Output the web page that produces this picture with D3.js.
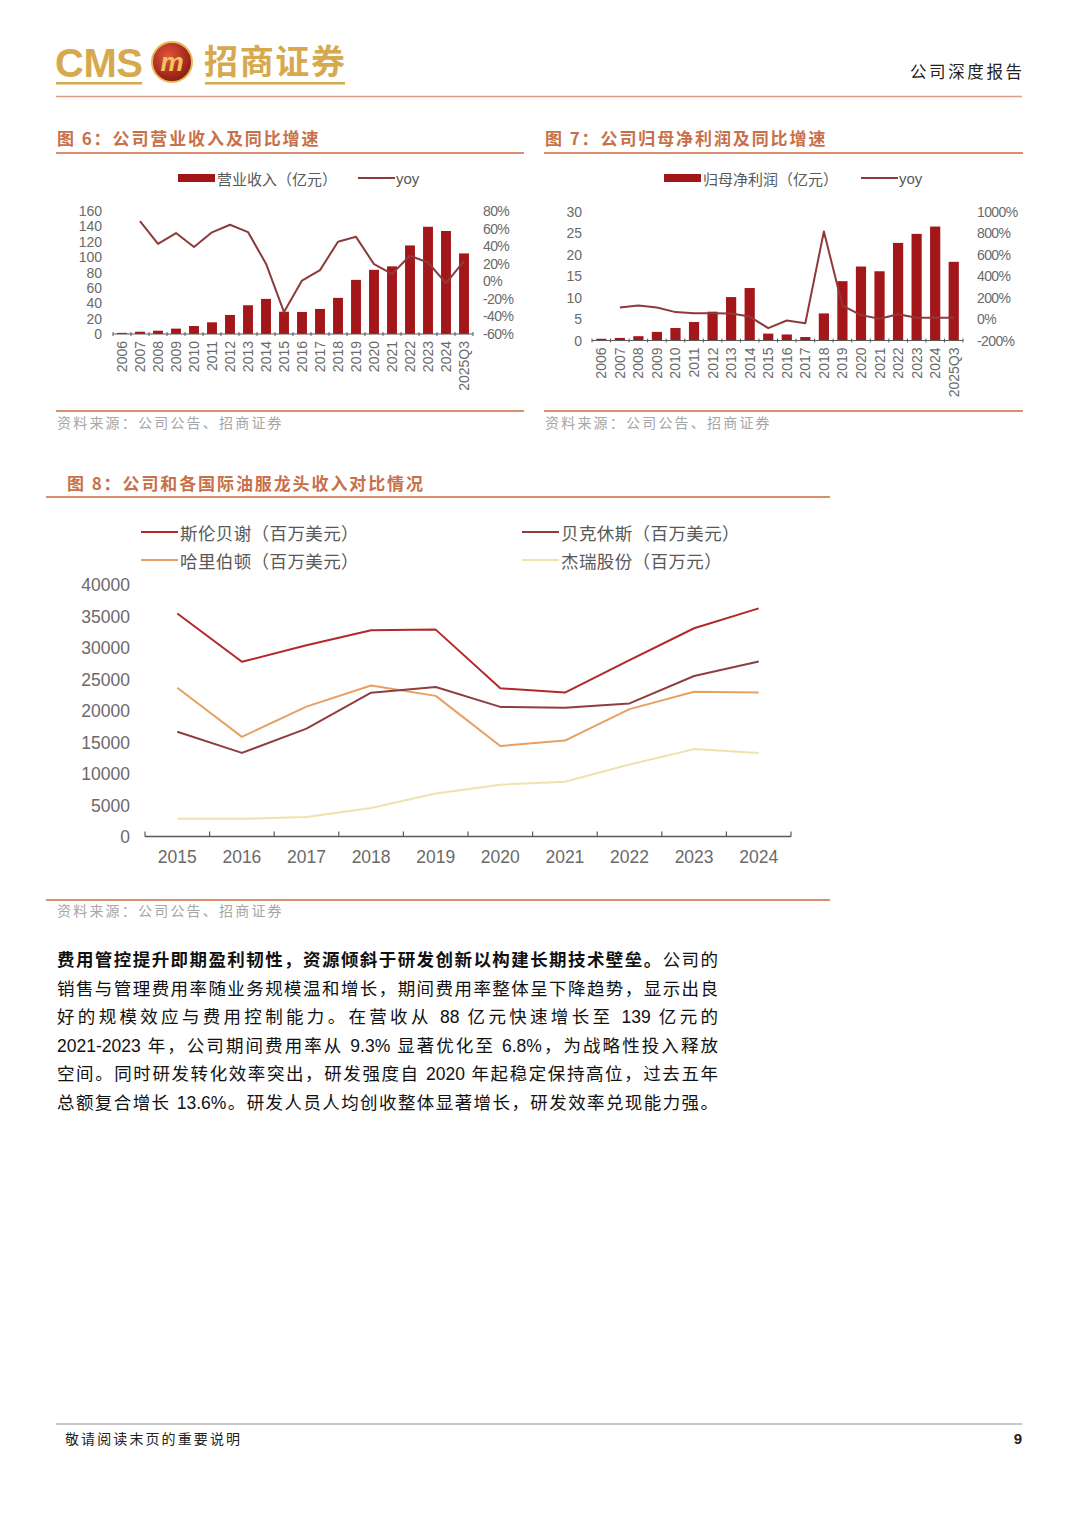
<!DOCTYPE html>
<html>
<head>
<meta charset="utf-8">
<script src="https://cdn.jsdelivr.net/npm/d3@7"></script>
<style>
  body { margin: 0; background: #fff; }
  #page { position: relative; width: 1080px; height: 1527px; overflow: hidden; }
  #page svg { position: absolute; left: 0; top: 0; }
  .para {
    position: absolute; left: 57px; top: 946px; width: 661px;
    font-family: "Liberation Sans", "Noto Sans CJK SC", sans-serif;
    font-size: 17.5px; line-height: 28.6px; color: #111;
  }
  .para div { text-align: justify; text-align-last: justify; text-justify: inter-character; }
  .para b { font-weight: 700; }
</style>
</head>
<body>
<div id="page"></div>
<script>
// ---- data ----
const years = ['2006', '2007', '2008', '2009', '2010', '2011', '2012', '2013', '2014', '2015',
  '2016', '2017', '2018', '2019', '2020', '2021', '2022', '2023', '2024', '2025Q3'];

// fig 6: revenue (100m yuan) and yoy (%)
const revenue = [1.5, 3, 4.3, 7, 10.4, 15.2, 24.8, 37.4, 45.7, 29, 28.7, 32.6, 47, 70.4, 83.5, 88, 115.2, 139.5, 134, 104.8];
const revenueYoy = [null, 68.6, 42.7, 54.9, 39, 55.7, 64.4, 56, 20, -35, 0.8, 12.7, 45, 50.6, 19.5, 8.5, 29, 21.4, -2, 23];

// fig 7: net profit attributable (100m yuan) and yoy (%)
const profit = [0.4, 0.6, 1.0, 2.0, 2.9, 4.3, 6.7, 10.1, 12.2, 1.6, 1.4, 0.8, 6.3, 13.8, 17.2, 16.1, 22.7, 24.8, 26.5, 18.3];
const profitYoy = [null, 107, 125, 107, 64, 54, 54, 51, 23, -85, -14, -39, 814, 125, 36, 2, 45, 11, 11, 11];

// fig 8: revenue of oilfield service leaders
const years8 = ['2015', '2016', '2017', '2018', '2019', '2020', '2021', '2022', '2023', '2024'];
const slb = [35475, 27810, 30440, 32815, 32917, 23601, 22929, 28091, 33135, 36289];
const bakerHughes = [16700, 13350, 17200, 22900, 23800, 20650, 20500, 21200, 25550, 27850];
const halliburton = [23700, 15900, 20700, 24050, 22400, 14450, 15300, 20300, 23050, 22950];
const jereh = [2900, 2880, 3170, 4600, 6920, 8300, 8780, 11500, 13950, 13350];
const names8 = ['斯伦贝谢（百万美元）', '哈里伯顿（百万美元）', '贝克休斯（百万美元）', '杰瑞股份（百万元）'];

const ticks6Left = [0, 20, 40, 60, 80, 100, 120, 140, 160];
const ticks6Right = [-60, -40, -20, 0, 20, 40, 60, 80];
const ticks7Left = [0, 5, 10, 15, 20, 25, 30];
const ticks7Right = [-200, 0, 200, 400, 600, 800, 1000];
const ticks8 = [0, 5000, 10000, 15000, 20000, 25000, 30000, 35000, 40000];

const paraLines = [
  ['<b>费用管控提升即期盈利韧性，资源倾斜于研发创新以构建长期技术壁垒。</b>公司的'],
  ['销售与管理费用率随业务规模温和增长，期间费用率整体呈下降趋势，显示出良'],
  ['好的规模效应与费用控制能力。在营收从 88 亿元快速增长至 139 亿元的'],
  ['2021-2023 年，公司期间费用率从 9.3% 显著优化至 6.8%，为战略性投入释放'],
  ['空间。同时研发转化效率突出，研发强度自 2020 年起稳定保持高位，过去五年'],
  ['总额复合增长 13.6%。研发人员人均创收整体显著增长，研发效率兑现能力强。']
];

const SANS = '"Liberation Sans", Arial, "Noto Sans CJK SC", sans-serif';
const CJK = '"Noto Sans CJK SC", sans-serif';
const BAR = '#A3161A';
const YOY = '#8E3A3A';
const TICK = '#6A6A6A';
const RULE = '#DA8F6E';

const page = d3.select('#page');
const svg = page.append('svg').attr('width', 1080).attr('height', 1527);

drawHeader(svg);

drawFigureFrame(svg, { x0: 56, x1: 524, titleX: 57, titleY: 140, lineY: 153, srcLineY: 411, srcX: 57, srcY: 424,
  title: '图 6：公司营业收入及同比增速' });
drawFigureFrame(svg, { x0: 544, x1: 1023, titleX: 545, titleY: 140, lineY: 153, srcLineY: 411, srcX: 545, srcY: 424,
  title: '图 7：公司归母净利润及同比增速' });
drawFigureFrame(svg, { x0: 46, x1: 830, titleX: 67, titleY: 485, lineY: 497, srcLineY: 900, srcX: 57, srcY: 912,
  title: '图 8：公司和各国际油服龙头收入对比情况' });

drawCombo(svg, {
  bars: revenue, yoy: revenueYoy,
  xRange: [113, 473], yRange: [334, 211],
  leftDomain: [0, 160], rightDomain: [-60, 80],
  leftTicks: ticks6Left, rightTicks: ticks6Right,
  leftLabelX: 102, rightLabelX: 483, rightFont: 14,
  legend: { x: 178, y: 178, label: '营业收入（亿元）', lineX: 358 }
});

drawCombo(svg, {
  bars: profit, yoy: profitYoy,
  xRange: [592, 963], yRange: [340.5, 211.5],
  leftDomain: [0, 30], rightDomain: [-200, 1000],
  leftTicks: ticks7Left, rightTicks: ticks7Right,
  leftLabelX: 582, rightLabelX: 977, rightFont: 14,
  legend: { x: 664, y: 178, label: '归母净利润（亿元）', lineX: 861 }
});

drawLines(svg);
drawBody();
drawFooter(svg);

// header with logo and report type
function drawHeader(svg) {
  const gold = '#D6A94F';
  svg.append('text')
    .attr('x', 55).attr('y', 77)
    .attr('font-family', SANS).attr('font-weight', 700).attr('font-size', 40)
    .attr('fill', gold).attr('textLength', 88)
    .text('CMS');

  const defs = svg.append('defs');
  const grad = defs.append('radialGradient').attr('id', 'logoGrad')
    .attr('cx', '40%').attr('cy', '35%').attr('r', '65%');
  grad.append('stop').attr('offset', '0%').attr('stop-color', '#E0553A');
  grad.append('stop').attr('offset', '100%').attr('stop-color', '#8E1C12');

  svg.append('circle').attr('cx', 172).attr('cy', 62).attr('r', 20)
    .attr('fill', 'url(#logoGrad)').attr('stroke', '#E7B858').attr('stroke-width', 2);
  svg.append('text')
    .attr('x', 172).attr('y', 71)
    .attr('text-anchor', 'middle')
    .attr('font-family', SANS).attr('font-weight', 700).attr('font-style', 'italic').attr('font-size', 26)
    .attr('fill', '#F2C45C')
    .text('m');

  svg.append('text')
    .attr('x', 204).attr('y', 74)
    .attr('font-family', CJK).attr('font-weight', 700).attr('font-size', 34)
    .attr('fill', gold).attr('textLength', 141)
    .text('招商证券');

  svg.append('rect').attr('x', 56).attr('y', 82).attr('width', 86).attr('height', 2.5).attr('fill', gold);
  svg.append('rect').attr('x', 205).attr('y', 82).attr('width', 140).attr('height', 2.5).attr('fill', gold);

  svg.append('text')
    .attr('x', 910).attr('y', 74)
    .attr('dominant-baseline', 'middle')
    .attr('font-family', CJK).attr('font-size', 16.5).attr('fill', '#222')
    .attr('textLength', 112)
    .text('公司深度报告');

  svg.append('line')
    .attr('x1', 56).attr('x2', 1022).attr('y1', 96.5).attr('y2', 96.5)
    .attr('stroke', '#DE9A86').attr('stroke-width', 1.3);
}

// figure title, rules and source note
function drawFigureFrame(svg, f) {
  svg.append('text')
    .attr('x', f.titleX).attr('y', f.titleY)
    .attr('dominant-baseline', 'middle')
    .attr('font-family', CJK).attr('font-weight', 700).attr('font-size', 17)
    .attr('letter-spacing', 1.9)
    .attr('fill', '#C8704A')
    .text(f.title);
  svg.append('line')
    .attr('x1', f.x0).attr('x2', f.x1).attr('y1', f.lineY).attr('y2', f.lineY)
    .attr('stroke', RULE).attr('stroke-width', 2);
  svg.append('line')
    .attr('x1', f.x0).attr('x2', f.x1).attr('y1', f.srcLineY).attr('y2', f.srcLineY)
    .attr('stroke', RULE).attr('stroke-width', 2);
  svg.append('text')
    .attr('x', f.srcX).attr('y', f.srcY)
    .attr('dominant-baseline', 'middle')
    .attr('font-family', CJK).attr('font-size', 14)
    .attr('letter-spacing', 2.2)
    .attr('fill', '#A6A6A6')
    .text('资料来源：公司公告、招商证券');
}

// bar + yoy line chart with two y axes
function drawCombo(svg, c) {
  const g = svg.append('g');
  const x = d3.scaleBand().domain(years).range(c.xRange).paddingInner(0.45).paddingOuter(0.225);
  const yL = d3.scaleLinear().domain(c.leftDomain).range(c.yRange);
  const yR = d3.scaleLinear().domain(c.rightDomain).range(c.yRange);
  const base = c.yRange[0];

  g.selectAll('rect.bar').data(c.bars).join('rect')
    .attr('class', 'bar')
    .attr('x', (d, i) => x(years[i]))
    .attr('width', x.bandwidth())
    .attr('y', d => yL(d))
    .attr('height', d => base - yL(d))
    .attr('fill', BAR);

  // x axis with ticks at category boundaries
  g.append('line')
    .attr('x1', c.xRange[0]).attr('x2', c.xRange[1]).attr('y1', base).attr('y2', base)
    .attr('stroke', '#595959').attr('stroke-width', 1.2);
  const step = x.step();
  d3.range(years.length + 1).forEach(i => {
    const tx = c.xRange[0] + i * step;
    g.append('line').attr('x1', tx).attr('x2', tx).attr('y1', base - 2).attr('y2', base + 2)
      .attr('stroke', '#595959');
  });

  g.selectAll('text.cat').data(years).join('text')
    .attr('class', 'cat')
    .attr('transform', d => `translate(${x(d) + x.bandwidth() / 2},${base + 7}) rotate(-90)`)
    .attr('text-anchor', 'end').attr('dominant-baseline', 'central')
    .attr('font-family', SANS).attr('font-size', 14).attr('fill', TICK)
    .text(d => d);

  const line = d3.line()
    .defined(d => d != null)
    .x((d, i) => x(years[i]) + x.bandwidth() / 2)
    .y(d => yR(d));
  g.append('path').datum(c.yoy)
    .attr('d', line).attr('fill', 'none')
    .attr('stroke', YOY).attr('stroke-width', 2).attr('stroke-linejoin', 'round');

  g.selectAll('text.yl').data(c.leftTicks).join('text')
    .attr('class', 'yl')
    .attr('x', c.leftLabelX).attr('y', d => yL(d))
    .attr('text-anchor', 'end').attr('dominant-baseline', 'central')
    .attr('font-family', SANS).attr('font-size', 14).attr('fill', TICK)
    .text(d => d);

  g.selectAll('text.yr').data(c.rightTicks).join('text')
    .attr('class', 'yr')
    .attr('x', c.rightLabelX).attr('y', d => yR(d))
    .attr('dominant-baseline', 'central')
    .attr('font-family', SANS).attr('font-size', c.rightFont).attr('fill', TICK)
    .attr('letter-spacing', -0.6)
    .text(d => d + '%');

  // legend
  const lg = c.legend;
  g.append('rect').attr('x', lg.x).attr('y', lg.y - 4).attr('width', 37).attr('height', 8).attr('fill', BAR);
  g.append('text').attr('x', lg.x + 39).attr('y', lg.y)
    .attr('dominant-baseline', 'central')
    .attr('font-family', CJK).attr('font-size', 15).attr('fill', '#595959')
    .text(lg.label);
  g.append('line').attr('x1', lg.lineX).attr('x2', lg.lineX + 37).attr('y1', lg.y).attr('y2', lg.y)
    .attr('stroke', YOY).attr('stroke-width', 2);
  g.append('text').attr('x', lg.lineX + 38).attr('y', lg.y)
    .attr('dominant-baseline', 'central')
    .attr('font-family', SANS).attr('font-size', 15).attr('fill', '#595959')
    .text('yoy');
}

// multi line chart of oilfield service companies
function drawLines(svg) {
  const g = svg.append('g');
  const x = d3.scaleBand().domain(years8).range([145, 791]);
  const y = d3.scaleLinear().domain([0, 40000]).range([837, 585]);
  const series = [
    { name: names8[0], values: slb, color: '#B3282C', lx: 141, ly: 532 },
    { name: names8[1], values: halliburton, color: '#E6A162', lx: 141, ly: 560 },
    { name: names8[2], values: bakerHughes, color: '#923D3D', lx: 522, ly: 532 },
    { name: names8[3], values: jereh, color: '#EEE3AE', lx: 522, ly: 560 }
  ];

  g.selectAll('text.yt').data(ticks8).join('text')
    .attr('class', 'yt')
    .attr('x', 130).attr('y', d => y(d))
    .attr('text-anchor', 'end').attr('dominant-baseline', 'central')
    .attr('font-family', SANS).attr('font-size', 17.5).attr('fill', TICK)
    .text(d => d);

  g.append('line')
    .attr('x1', 145).attr('x2', 791).attr('y1', 836.5).attr('y2', 836.5)
    .attr('stroke', '#595959').attr('stroke-width', 1.3);
  d3.range(years8.length + 1).forEach(i => {
    const tx = 145 + i * x.step();
    g.append('line').attr('x1', tx).attr('x2', tx).attr('y1', 831.5).attr('y2', 836.5)
      .attr('stroke', '#595959').attr('stroke-width', 1.2);
  });

  g.selectAll('text.xt').data(years8).join('text')
    .attr('class', 'xt')
    .attr('x', d => x(d) + x.bandwidth() / 2).attr('y', 857)
    .attr('text-anchor', 'middle').attr('dominant-baseline', 'central')
    .attr('font-family', SANS).attr('font-size', 17.5).attr('fill', TICK)
    .text(d => d);

  const line = d3.line()
    .x((d, i) => x(years8[i]) + x.bandwidth() / 2)
    .y(d => y(d));

  // draw light series first so the darker lines sit on top
  [3, 1, 2, 0].forEach(k => {
    const s = series[k];
    g.append('path').datum(s.values)
      .attr('d', line).attr('fill', 'none')
      .attr('stroke', s.color).attr('stroke-width', 2).attr('stroke-linejoin', 'round');
  });

  series.forEach(s => {
    g.append('line').attr('x1', s.lx).attr('x2', s.lx + 37).attr('y1', s.ly).attr('y2', s.ly)
      .attr('stroke', s.color).attr('stroke-width', 2);
    g.append('text').attr('x', s.lx + 39).attr('y', s.ly)
      .attr('dominant-baseline', 'central')
      .attr('font-family', CJK).attr('font-size', 17.5).attr('fill', '#595959')
      .attr('letter-spacing', 0.4)
      .text(s.name);
  });
}

function drawBody() {
  const p = page.append('div').attr('class', 'para');
  paraLines.forEach(l => p.append('div').html(l[0]));
}

function drawFooter(svg) {
  svg.append('line')
    .attr('x1', 56).attr('x2', 1022).attr('y1', 1424).attr('y2', 1424)
    .attr('stroke', '#C8C8C8').attr('stroke-width', 2);
  svg.append('text')
    .attr('x', 65).attr('y', 1440)
    .attr('dominant-baseline', 'middle')
    .attr('font-family', CJK).attr('font-size', 14).attr('fill', '#222')
    .attr('letter-spacing', 2.1)
    .text('敬请阅读末页的重要说明');
  svg.append('text')
    .attr('x', 1022).attr('y', 1440)
    .attr('text-anchor', 'end').attr('dominant-baseline', 'middle')
    .attr('font-family', SANS).attr('font-weight', 700).attr('font-size', 15).attr('fill', '#222')
    .text('9');
}
</script>
</body>
</html>
